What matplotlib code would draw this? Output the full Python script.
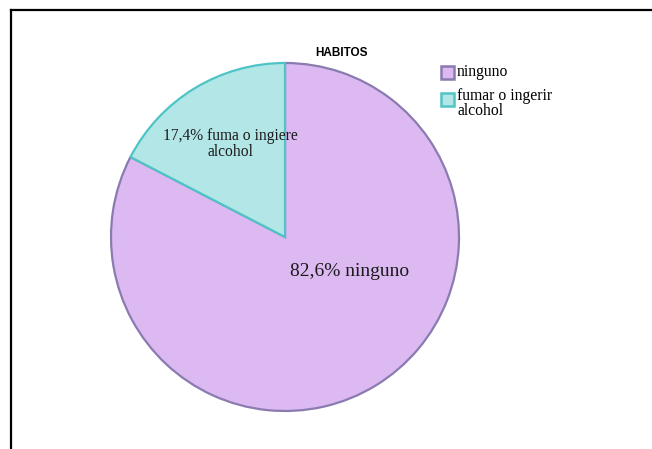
import matplotlib
matplotlib.use("Agg")
import matplotlib.pyplot as plt
from matplotlib.patches import Rectangle

# HABITOS: share of respondents
categories = ["ninguno", "fumar o ingerir\nalcohol"]
slice_labels = ["82,6% ninguno", "17,4% fuma o ingiere\nalcohol"]
percentages = [82.6, 17.4]
fills = ["#ddb9f2", "#b3e6e6"]
edges = ["#8a7bb0", "#4fc4c6"]

W, H = 652, 449
fig = plt.figure(figsize=(W / 100, H / 100), dpi=100)
ax = fig.add_axes([0, 0, 1, 1])

cx, cy, r = 285, H - 237, 174
wedges, _ = ax.pie(percentages, colors=fills, startangle=90, counterclock=False,
                   center=(cx, cy), radius=r, frame=True,
                   wedgeprops=dict(linewidth=1.6))
for w, ec in zip(wedges, edges):
    w.set_edgecolor(ec)
ax.set_xlim(0, W)
ax.set_ylim(0, H)
ax.set_aspect("equal")
ax.axis("off")

serif = "Liberation Serif"
ax.text(350, H - 272, slice_labels[0], ha="center", va="center",
        fontsize=14, family=serif, color="#1a1a1a", zorder=5)
ax.text(230, H - 144, slice_labels[1], ha="center", va="center",
        fontsize=11.2, family=serif, color="#1a1a1a", linespacing=1.05, zorder=5)

ax.text(341, H - 53, "HABITOS", ha="center", va="center",
        fontsize=8.5, fontweight="bold", family="Liberation Sans")

# legend
legend_y = [H - 72, H - 99]
text_off = [8, 11]
for y, off, label, fc, ec in zip(legend_y, text_off, categories, fills, edges):
    ax.add_patch(Rectangle((441, y - 6.5), 13, 13, facecolor=fc, edgecolor=ec, lw=1.8))
    ax.text(457, y + off, label, ha="left", va="top", fontsize=11.3,
            family=serif, linespacing=0.95)

# frame lines
ax.plot([10.5, W], [H - 9.5, H - 9.5], color="black", lw=1.6, clip_on=False)
ax.plot([10.5, 10.5], [0, H - 9.5], color="black", lw=1.6, clip_on=False)

fig.savefig("out.png", dpi=100)
